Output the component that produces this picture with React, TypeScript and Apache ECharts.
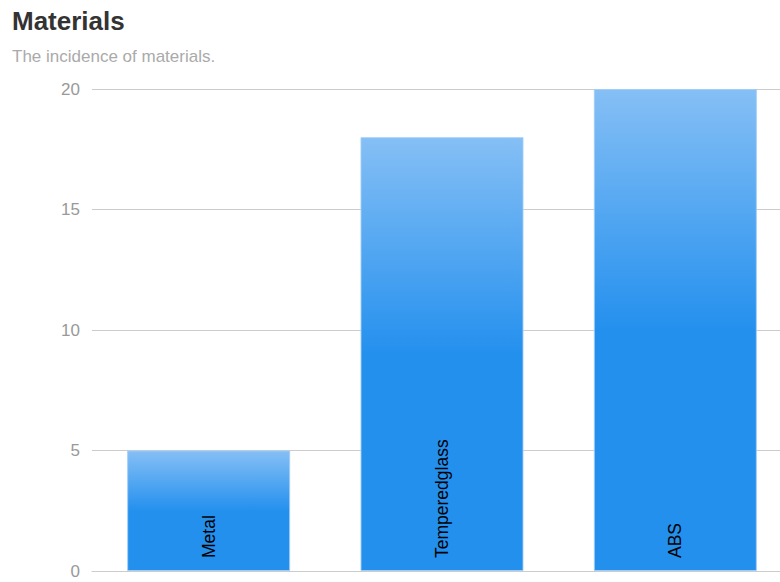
import React, { useEffect, useRef } from "react";
import * as echarts from "echarts";

const categories = ["Metal", "Temperedglass", "ABS"];
const values = [5, 18, 20];
const yTicks = [0, 5, 10, 15, 20];

export default function App() {
  const ref = useRef<HTMLDivElement>(null);
  useEffect(() => {
    const chart = echarts.init(ref.current!, undefined, { renderer: "svg" });
    chart.setOption({
      animation: false,
      textStyle: { fontFamily: "Liberation Sans, Arial, sans-serif" },
      title: {
        text: "Materials",
        subtext: "The incidence of materials.",
        left: 7,
        top: 3,
        itemGap: 14,
        textStyle: { fontSize: 26, fontWeight: "bold", color: "#333" },
        subtextStyle: { fontSize: 17, color: "#aaa" },
      },
      grid: {
        left: 92,
        width: 700,
        top: 89,
        bottom: 11,
        containLabel: false,
        outerBoundsMode: "none",
      },
      xAxis: {
        type: "category",
        data: categories,
        axisLabel: { show: false },
        axisTick: { show: false },
        axisLine: { show: true, lineStyle: { color: "#ccc" } },
      },
      yAxis: {
        type: "value",
        min: yTicks[0],
        max: yTicks[yTicks.length - 1],
        interval: 5,
        axisLabel: { color: "#999", fontSize: 17, margin: 12 },
        axisLine: { show: false },
        axisTick: { show: false },
        splitLine: { lineStyle: { color: "#ccc" } },
      },
      series: [
        {
          type: "bar",
          data: values,
          barWidth: 163,
          itemStyle: {
            color: new echarts.graphic.LinearGradient(0, 0, 0, 1, [
              { offset: 0, color: "#85bff5" },
              { offset: 0.5, color: "#2490ee" },
              { offset: 1, color: "#2490ee" },
            ]),
            borderColor: "rgba(160,205,248,0.9)",
            borderWidth: 1,
          },
          label: {
            show: true,
            formatter: (p: any) => categories[p.dataIndex],
            position: "insideBottom",
            rotate: 90,
            align: "left",
            verticalAlign: "middle",
            distance: 13,
            color: "#000",
            fontSize: 17.5,
          },
        },
      ],
    });
    return () => chart.dispose();
  }, []);
  return <div ref={ref} style={{ width: 780, height: 582, position: "absolute", left: 0, top: 0 }} />;
}
